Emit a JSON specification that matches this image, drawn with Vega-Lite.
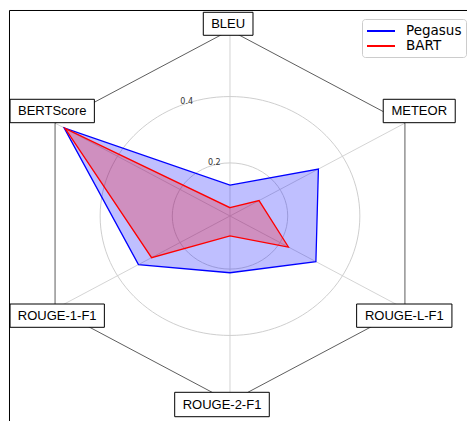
{
  "$schema": "https://vega.github.io/schema/vega-lite/v6.json",
  "width": 467,
  "height": 421,
  "padding": 0,
  "autosize": {"type": "none"},
  "background": "white",
  "config": {"view": {"stroke": null}},
  "datasets": {
    "scores": [
      {"model": "Pegasus", "metric": "BLEU", "value": 0.133},
      {"model": "Pegasus", "metric": "METEOR", "value": 0.323},
      {"model": "Pegasus", "metric": "ROUGE-L-F1", "value": 0.315},
      {"model": "Pegasus", "metric": "ROUGE-2-F1", "value": 0.211},
      {"model": "Pegasus", "metric": "ROUGE-1-F1", "value": 0.333},
      {"model": "Pegasus", "metric": "BERTScore", "value": 0.571},
      {"model": "BART", "metric": "BLEU", "value": 0.065},
      {"model": "BART", "metric": "METEOR", "value": 0.133},
      {"model": "BART", "metric": "ROUGE-L-F1", "value": 0.227},
      {"model": "BART", "metric": "ROUGE-2-F1", "value": 0.100},
      {"model": "BART", "metric": "ROUGE-1-F1", "value": 0.291},
      {"model": "BART", "metric": "BERTScore", "value": 0.568}
    ],
    "axes": [
      {"metric": "BLEU"},
      {"metric": "METEOR"},
      {"metric": "ROUGE-L-F1"},
      {"metric": "ROUGE-2-F1"},
      {"metric": "ROUGE-1-F1"},
      {"metric": "BERTScore"}
    ],
    "grid": [{"tick": 0.2}, {"tick": 0.4}],
    "frame": [{"side": "top"}]
  },
  "layer": [
    {
      "data": {"name": "frame"},
      "transform": [
        {"calculate": "-1.0916", "as": "fx"},
        {"calculate": "1.1733", "as": "fx2"},
        {"calculate": "1.106", "as": "fy"},
        {"calculate": "-1.1033", "as": "fy2"}
      ],
      "layer": [
        {
          "mark": {"type": "rule", "color": "black", "strokeWidth": 1},
          "encoding": {
            "x": {"field": "fx", "type": "quantitative", "scale": {"domain": [-1.1386, 1.1733], "nice": false, "zero": false}, "axis": null},
            "x2": {"field": "fx2"},
            "y": {"field": "fy", "type": "quantitative", "scale": {"domain": [-1.1033, 1.1625], "nice": false, "zero": false}, "axis": null}
          }
        },
        {
          "mark": {"type": "rule", "color": "black", "strokeWidth": 1},
          "encoding": {
            "x": {"field": "fx", "type": "quantitative"},
            "y": {"field": "fy", "type": "quantitative"},
            "y2": {"field": "fy2"}
          }
        }
      ]
    },
    {
      "data": {"name": "grid"},
      "transform": [
        {"calculate": "(datum.tick-0.04)/0.56", "as": "r"},
        {"calculate": "0", "as": "cx"},
        {"calculate": "0", "as": "cy"}
      ],
      "mark": {
        "type": "point",
        "shape": "M1,0C1,0.508,0.5523,0.9198,0,0.9198C-0.5523,0.9198,-1,0.508,-1,0C-1,-0.508,-0.5523,-0.9198,0,-0.9198C0.5523,-0.9198,1,-0.508,1,0Z",
        "filled": false,
        "stroke": "#c8c8c8",
        "strokeWidth": 0.9,
        "opacity": 1,
        "strokeOpacity": 1
      },
      "encoding": {
        "x": {"field": "cx", "type": "quantitative"},
        "y": {"field": "cy", "type": "quantitative"},
        "size": {"field": "r", "type": "quantitative", "scale": {"type": "pow", "exponent": 2, "domain": [0, 1], "range": [0, 163216]}, "legend": null}
      }
    },
    {
      "data": {"name": "axes"},
      "transform": [
        {"calculate": "indexof(['BLEU','METEOR','ROUGE-L-F1','ROUGE-2-F1','ROUGE-1-F1','BERTScore'], datum.metric)", "as": "idx"},
        {"calculate": "sin(datum.idx*PI/3)", "as": "px"},
        {"calculate": "cos(datum.idx*PI/3)", "as": "py"},
        {"calculate": "0", "as": "cx"},
        {"calculate": "0", "as": "cy"}
      ],
      "layer": [
        {
          "mark": {"type": "rule", "color": "#cfcfcf", "strokeWidth": 0.9},
          "encoding": {
            "x": {"field": "cx", "type": "quantitative"},
            "y": {"field": "cy", "type": "quantitative"},
            "x2": {"field": "px"},
            "y2": {"field": "py"}
          }
        },
        {
          "mark": {"type": "line", "interpolate": "linear-closed", "color": "#333333", "strokeWidth": 0.8},
          "encoding": {
            "x": {"field": "px", "type": "quantitative"},
            "y": {"field": "py", "type": "quantitative"},
            "order": {"field": "idx", "type": "quantitative"}
          }
        }
      ]
    },
    {
      "data": {"name": "scores"},
      "transform": [
        {"filter": "datum.model === 'Pegasus'"},
        {"calculate": "indexof(['BLEU','METEOR','ROUGE-L-F1','ROUGE-2-F1','ROUGE-1-F1','BERTScore'], datum.metric)", "as": "idx"},
        {"calculate": "(datum.value-0.04)/0.56", "as": "r"},
        {"calculate": "datum.r*sin(datum.idx*PI/3)", "as": "px"},
        {"calculate": "datum.r*cos(datum.idx*PI/3)", "as": "py"}
      ],
      "mark": {"type": "line", "interpolate": "linear-closed", "fill": "#0000ff", "fillOpacity": 0.25, "strokeWidth": 1.3},
      "encoding": {
        "x": {"field": "px", "type": "quantitative"},
        "y": {"field": "py", "type": "quantitative"},
        "order": {"field": "idx", "type": "quantitative"},
        "stroke": {
          "field": "model", "type": "nominal",
          "scale": {"domain": ["Pegasus", "BART"], "range": ["#0000ff", "#ff0000"]},
          "legend": {
            "orient": "none", "legendX": 362, "legendY": 19, "title": null,
            "symbolType": "M-1,0H3", "symbolSize": 196, "symbolStrokeWidth": 2, "symbolFillColor": "transparent",
            "labelFont": "DejaVu Sans", "labelFontSize": 13.5, "labelColor": "black", "labelOffset": 24,
            "fillColor": "white", "strokeColor": "#cccccc", "cornerRadius": 3, "padding": 4, "rowPadding": -2
          }
        }
      }
    },
    {
      "data": {"name": "scores"},
      "transform": [
        {"filter": "datum.model === 'BART'"},
        {"calculate": "indexof(['BLEU','METEOR','ROUGE-L-F1','ROUGE-2-F1','ROUGE-1-F1','BERTScore'], datum.metric)", "as": "idx"},
        {"calculate": "(datum.value-0.04)/0.56", "as": "r"},
        {"calculate": "datum.r*sin(datum.idx*PI/3)", "as": "px"},
        {"calculate": "datum.r*cos(datum.idx*PI/3)", "as": "py"}
      ],
      "mark": {"type": "line", "interpolate": "linear-closed", "fill": "#ff0000", "fillOpacity": 0.25, "strokeWidth": 1.3},
      "encoding": {
        "x": {"field": "px", "type": "quantitative"},
        "y": {"field": "py", "type": "quantitative"},
        "order": {"field": "idx", "type": "quantitative"},
        "stroke": {"field": "model", "type": "nominal"}
      }
    },
    {
      "data": {"name": "grid"},
      "transform": [
        {"calculate": "(datum.tick-0.04)/0.56", "as": "r"},
        {"calculate": "datum.r*sin(-PI/8)", "as": "px"},
        {"calculate": "datum.r*cos(-PI/8)", "as": "py"}
      ],
      "mark": {"type": "text", "align": "left", "baseline": "middle", "dy": -4, "font": "DejaVu Sans", "fontSize": 8, "color": "#333333"},
      "encoding": {
        "x": {"field": "px", "type": "quantitative"},
        "y": {"field": "py", "type": "quantitative"},
        "text": {"field": "tick", "type": "quantitative", "format": ".1f"}
      }
    },
    {
      "data": {"name": "axes"},
      "transform": [
        {"calculate": "indexof(['BLEU','METEOR','ROUGE-L-F1','ROUGE-2-F1','ROUGE-1-F1','BERTScore'], datum.metric)", "as": "idx"},
        {"calculate": "sin(datum.idx*PI/3)", "as": "px"},
        {"calculate": "cos(datum.idx*PI/3)", "as": "py"}
      ],
      "layer": [
        {
          "mark": {"type": "point", "size": 4, "filled": true, "fill": "white", "stroke": "black", "strokeWidth": 1, "opacity": 1, "fillOpacity": 1, "strokeOpacity": 1},
          "encoding": {
            "x": {"field": "px", "type": "quantitative"},
            "y": {"field": "py", "type": "quantitative"},
            "shape": {
              "field": "metric", "type": "nominal", "legend": null,
              "scale": {
                "domain": ["BLEU", "METEOR", "ROUGE-L-F1", "ROUGE-2-F1", "ROUGE-1-F1", "BERTScore"],
                "range": [
                  "M-26.7,-17.9H23V5.1H-26.7Z",
                  "M-21.7,-23.8H50.3V-0.4H-21.7Z",
                  "M-48.3,-4.9H47V18.4H-48.3Z",
                  "M-55.3,-9.5H39.3V14.9H-55.3Z",
                  "M-45,-4.9H49.3V18.4H-45Z",
                  "M-45,-23.8H39.3V-0.4H-45Z"
                ]
              }
            }
          }
        },
        {
          "mark": {
            "type": "text", "align": "center", "baseline": "middle", "font": "Liberation Sans", "fontSize": 13, "color": "black",
            "dx": {"expr": "datum.metric==='BLEU'?-1.85:datum.metric==='METEOR'?14.3:datum.metric==='ROUGE-L-F1'?-0.65:datum.metric==='ROUGE-2-F1'?-8:datum.metric==='ROUGE-1-F1'?2.15:-2.85"},
            "dy": {"expr": "datum.metric==='BLEU'?-6.4:datum.metric==='METEOR'?-12.1:datum.metric==='ROUGE-L-F1'?6.75:datum.metric==='ROUGE-2-F1'?2.7:datum.metric==='ROUGE-1-F1'?6.75:-12.1"}
          },
          "encoding": {
            "x": {"field": "px", "type": "quantitative"},
            "y": {"field": "py", "type": "quantitative"},
            "text": {"field": "metric", "type": "nominal"}
          }
        }
      ]
    }
  ]
}
